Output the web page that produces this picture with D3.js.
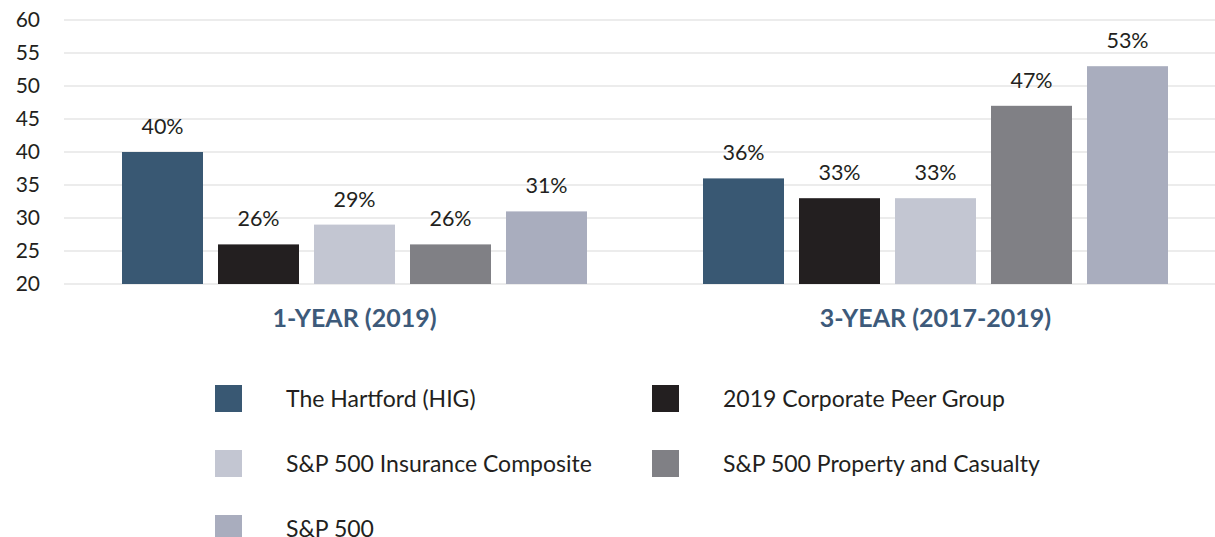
<!DOCTYPE html>
<html>
<head>
<meta charset="utf-8">
<script src="https://cdn.jsdelivr.net/npm/d3@7"></script>
<style>
  body { margin: 0; background: #fff; }
  text { font-family: Lato, "Open Sans", sans-serif; }
</style>
</head>
<body>
<div id="chart"></div>
<script>
var width = 1215,
    height = 537;

var groups = ["1-YEAR (2019)", "3-YEAR (2017-2019)"];
var series = ["The Hartford (HIG)", "2019 Corporate Peer Group", "S&P 500 Insurance Composite",
              "S&P 500 Property and Casualty", "S&P 500"];
var colors = ["#395873", "#231f20", "#c3c6d2", "#808085", "#a9adbe"];
var oneYear = [40, 26, 29, 26, 31];
var threeYear = [36, 33, 33, 47, 53];
var yTicks = [20, 25, 30, 35, 40, 45, 50, 55, 60];

var values = [oneYear, threeYear];

var svg = d3.select("#chart").append("svg")
    .attr("width", width)
    .attr("height", height);

var y = d3.scaleLinear().domain([20, 60]).range([284, 20]);
var x0 = d3.scaleBand().domain(groups).range([64, 1226]);
var x1 = d3.scaleBand().domain(series).range([-232.5, 232.5]).paddingInner(15 / 96);

// gridlines
svg.append("g").selectAll("line").data(yTicks).enter().append("line")
    .attr("x1", 64).attr("x2", width)
    .attr("y1", function(d) { return y(d); })
    .attr("y2", function(d) { return y(d); })
    .attr("stroke", "#d9d9d9")
    .attr("stroke-width", 1);

// y axis labels
var yAxis = d3.axisLeft(y).tickValues(yTicks).tickSize(0).tickPadding(0);
var yg = svg.append("g").attr("transform", "translate(40,0)").call(yAxis);
yg.select(".domain").remove();
yg.selectAll("text")
    .attr("font-size", 21)
    .attr("fill", "#231f20")
    .style("font-family", "Lato, sans-serif");

// bars
var group = svg.selectAll(".group").data(groups).enter().append("g")
    .attr("class", "group")
    .attr("transform", function(d) { return "translate(" + (x0(d) + x0.bandwidth() / 2) + ",0)"; });

group.selectAll("rect").data(function(d, i) {
        return values[i].map(function(v, j) { return { s: series[j], v: v, c: colors[j] }; });
    }).enter().append("rect")
    .attr("x", function(d) { return x1(d.s); })
    .attr("width", x1.bandwidth())
    .attr("y", function(d) { return y(d.v); })
    .attr("height", function(d) { return y(20) - y(d.v); })
    .attr("fill", function(d) { return d.c; });

group.selectAll(".val").data(function(d, i) {
        return values[i].map(function(v, j) { return { s: series[j], v: v }; });
    }).enter().append("text")
    .attr("class", "val")
    .attr("x", function(d) { return x1(d.s) + x1.bandwidth() / 2; })
    .attr("y", function(d) { return y(d.v) - 18; })
    .attr("text-anchor", "middle")
    .attr("font-size", 21.5)
    .attr("fill", "#231f20")
    .text(function(d) { return d.v + "%"; });

group.append("text")
    .attr("x", 0)
    .attr("y", 327)
    .attr("text-anchor", "middle")
    .attr("font-size", 25)
    .attr("font-weight", "bold")
    .attr("fill", "#3d5a7a")
    .text(function(d) { return d; });

// legend
var legend = svg.selectAll(".legend").data(series).enter().append("g")
    .attr("class", "legend")
    .attr("transform", function(d, i) {
        return "translate(" + (i % 2 ? 652 : 215) + "," + (385 + Math.floor(i / 2) * 65) + ")";
    });

legend.append("rect")
    .attr("width", 27).attr("height", 27)
    .attr("fill", function(d, i) { return colors[i]; });

legend.append("text")
    .attr("x", 71)
    .attr("y", 22)
    .attr("font-size", 23)
    .attr("fill", "#231f20")
    .text(function(d) { return d; });
</script>
</body>
</html>
